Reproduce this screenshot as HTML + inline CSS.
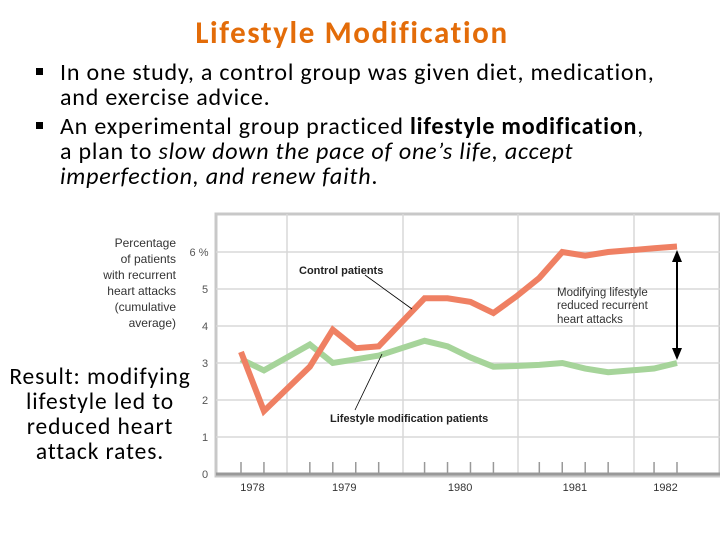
<!DOCTYPE html>
<html><head><meta charset="utf-8"><style>
body{margin:0;width:720px;height:540px;background:#fff;font-family:"Carlito","Liberation Sans",sans-serif;position:relative;overflow:hidden}
.t{position:absolute;left:0;width:704px;top:14px;text-align:center;font-size:31px;font-weight:bold;color:#e36c09;letter-spacing:1.6px}
.b{position:absolute;left:33px;font-size:24px;color:#000;line-height:25px;letter-spacing:0.8px}
.b span.bul{position:absolute;left:3px;top:8px;width:7px;height:7px;background:#000}
.b div{padding-left:27px}
.res{position:absolute;left:0px;top:365px;width:200px;text-align:center;font-size:23.5px;line-height:25px;letter-spacing:0.9px}
</style></head><body>
<div class="t">Lifestyle Modification</div>
<div class="b" style="top:60px"><span class="bul"></span><div>In one study, a control group was given diet, medication,<br>and exercise advice.</div></div>
<div class="b" style="top:114px"><span class="bul"></span><div>An experimental group practiced <b>lifestyle modification</b>,<br>a plan to <i>slow down the pace of one’s life, accept<br>imperfection, and renew faith</i>.</div></div>
<div class="res">Result: modifying lifestyle led to reduced heart attack rates.</div>
<svg id="c" width="720" height="540" style="position:absolute;left:0;top:0;font-family:'Liberation Sans',sans-serif"></svg>
<script>
const years=["1978","1979","1980","1981","1982"];
const yTicks=[0,1,2,3,4,5,6];
const control=[3.3,1.7,2.3,2.9,3.9,3.4,3.45,4.1,4.75,4.75,4.65,4.35,4.8,5.3,6.0,5.9,6.0,6.05,6.1,6.15];
const lifestyle=[3.1,2.8,3.15,3.5,3.0,3.1,3.2,3.4,3.6,3.45,3.15,2.9,2.92,2.95,3.0,2.85,2.75,2.8,2.85,3.0];
const yearIdx=[0.5,4.5,9.55,14.55,18.5];
const svg=document.getElementById('c');const NS='http://www.w3.org/2000/svg';
function y(v){return 474-v*37;}
function x(i){return 241+i*(436/19);}
function mk(t,a,p){const e=document.createElementNS(NS,t);for(const k in a)e.setAttribute(k,a[k]);(p||svg).appendChild(e);return e;}
let r=mk('rect',{x:216,y:214,width:504,height:262,fill:'#fff',stroke:'#c8c8c8','stroke-width':3});

[287,403,518,634].forEach(gx=>{mk('line',{x1:gx,y1:214,x2:gx,y2:474,stroke:'#d8d8d8','stroke-width':1.5});});
yTicks.forEach(v=>{if(v>0)mk('line',{x1:216,y1:y(v),x2:720,y2:y(v),stroke:'#d8d8d8','stroke-width':1.5});
 const t=mk('text',{x:v==6?199:205,y:y(v)+4,'font-size':11,fill:'#555','text-anchor':'middle'});t.textContent=v==6?'6 %':String(v);
 });
mk('line',{x1:216,y1:474,x2:720,y2:474,stroke:'#999','stroke-width':3});
for(let i=0;i<20;i++){if([2,7,12,17].includes(i))continue;mk('line',{x1:x(i),y1:462,x2:x(i),y2:474,stroke:'#999','stroke-width':1.5});}
years.forEach((yr,k)=>{const t=mk('text',{x:x(yearIdx[k]),y:491,'font-size':11,fill:'#333','text-anchor':'middle'});t.textContent=yr;
 });
function line(d,c,n){const p=mk('polyline',{points:d.map((v,i)=>x(i)+','+y(v)).join(' '),fill:'none',stroke:c,'stroke-width':6,'stroke-linejoin':'miter'});
 }
line(lifestyle,'#a6d49a','lifestyle-line');line(control,'#ef8063','control-line');
mk('line',{x1:365,y1:275,x2:412,y2:309,stroke:'#000','stroke-width':0.8});
mk('line',{x1:355,y1:410,x2:382,y2:354,stroke:'#000','stroke-width':0.8});
function tx(s,xx,yy,n,anchor,sz,col,bold){const t=mk('text',{x:xx,y:yy,'font-size':sz||11,fill:col||'#222','text-anchor':anchor||'start','font-weight':bold?'bold':'normal'});t.textContent=s;}
tx('Control patients',299,274,'control-label','start',11,'#222',true);
tx('Lifestyle modification patients',330,422,'lifestyle-label','start',11,'#222',true);
tx('Modifying lifestyle',557,296,'annotation','start',11.5,'#333');
tx('reduced recurrent',557,309,'annotation','start',11.5,'#333');
tx('heart attacks',557,323,'annotation','start',11.5,'#333');
mk('line',{x1:677,y1:256,x2:677,y2:354,stroke:'#000','stroke-width':2});
mk('polygon',{points:'677,250 672,262 682,262',fill:'#000'});
mk('polygon',{points:'677,360 672,348 682,348',fill:'#000'});
['Percentage','of patients','with recurrent','heart attacks','(cumulative','average)'].forEach((s,i)=>tx(s,176,247+i*16,'y-axis-title','end',12,'#333'));
</script>
</body></html>
